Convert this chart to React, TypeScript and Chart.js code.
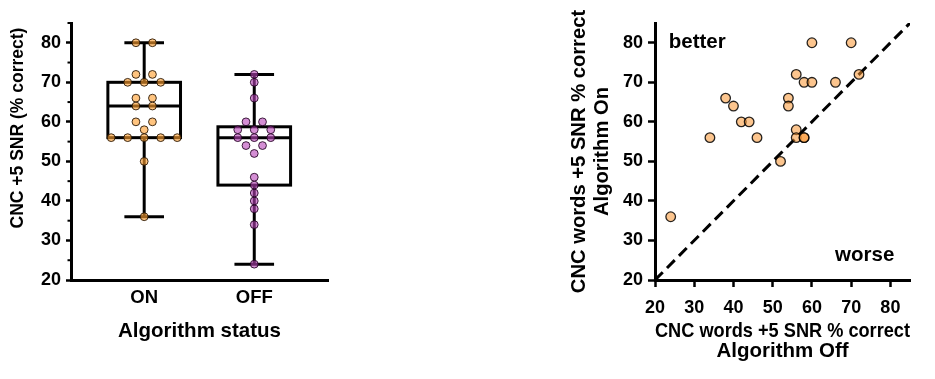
import React, { useEffect, useRef } from 'react';
import { Chart, registerables } from 'chart.js';

Chart.register(...registerables);

const FONT = "'Liberation Sans', Arial, Helvetica, sans-serif";

// ---- data ----
const statusLabels = ['ON', 'OFF'];
// paired participants: algorithm off / algorithm on (% correct)
const scoreOff = [24, 34, 38, 40, 42, 44, 46, 52, 54, 54, 56, 56, 56, 58, 58, 58, 60, 60, 66, 70, 72];
const scoreOn = [36, 56, 66, 64, 60, 60, 56, 50, 66, 64, 72, 58, 56, 70, 56, 56, 80, 70, 70, 80, 72];
// box stats: min, q1, median, q3, max
const boxOn = [36, 56, 64, 70, 80];
const boxOff = [24, 44, 56, 58.75, 72];
const axisRange = [20, 85];
const majorStep = 10;
const minorTickValues = [25, 35, 45, 55, 65, 75, 85];
const identityLine = [20, 85];

const SWARM_SPACING = 0.15;
const BOX_HALF = 0.33;
const CAP_HALF = 0.18;

function swarm(values: number[], center: number, spacing: number) {
  const counts: Record<number, number> = {};
  const seen: Record<number, number> = {};
  values.forEach((v) => (counts[v] = (counts[v] || 0) + 1));
  return values.map((v) => {
    const i = (seen[v] = (seen[v] ?? -1) + 1);
    return { x: center + (i - (counts[v] - 1) / 2) * spacing, y: v };
  });
}

const boxPlugin = {
  id: 'boxes',
  beforeDatasetsDraw(chart: any) {
    const { ctx, scales } = chart;
    const x = scales.x;
    const y = scales.y;
    ctx.save();
    ctx.strokeStyle = '#000';
    ctx.lineWidth = 3;
    ctx.lineCap = 'butt';
    const line = (x1: number, y1: number, x2: number, y2: number) => {
      ctx.beginPath();
      ctx.moveTo(x1, y1);
      ctx.lineTo(x2, y2);
      ctx.stroke();
    };
    [boxOn, boxOff].forEach((b, i) => {
      const c = i + 1;
      const xc = x.getPixelForValue(c);
      const xl = x.getPixelForValue(c - BOX_HALF);
      const xr = x.getPixelForValue(c + BOX_HALF);
      const cl = x.getPixelForValue(c - CAP_HALF);
      const cr = x.getPixelForValue(c + CAP_HALF);
      const [mn, q1, md, q3, mx] = b.map((v) => y.getPixelForValue(v));
      line(xc, mn, xc, q1);
      line(xc, q3, xc, mx);
      line(cl, mn, cr, mn);
      line(cl, mx, cr, mx);
      ctx.strokeRect(xl, q3, xr - xl, q1 - q3);
      line(xl, md, xr, md);
    });
    ctx.restore();
  },
  afterDraw(chart: any) {
    const { ctx, scales, chartArea } = chart;
    const y = scales.y;
    ctx.save();
    ctx.strokeStyle = '#000';
    ctx.lineWidth = 2;
    minorTickValues.forEach((v) => {
      const py = y.getPixelForValue(v);
      ctx.beginPath();
      ctx.moveTo(chartArea.left - 3.5, py);
      ctx.lineTo(chartArea.left, py);
      ctx.stroke();
    });
    ctx.translate(18, chartArea.top + 105);
    ctx.rotate(-Math.PI / 2);
    ctx.font = `bold 17.5px ${FONT}`;
    ctx.fillStyle = '#000';
    ctx.textAlign = 'center';
    ctx.textBaseline = 'middle';
    ctx.fillText('CNC +5 SNR (% correct)', 0, 0);
    ctx.restore();
  },
};

const notePlugin = {
  id: 'notes',
  afterDatasetsDraw(chart: any) {
    const { ctx, scales } = chart;
    const x = scales.x;
    const y = scales.y;
    ctx.save();
    ctx.font = `bold 20.5px ${FONT}`;
    ctx.fillStyle = '#000';
    ctx.textBaseline = 'middle';
    ctx.textAlign = 'left';
    ctx.fillText('better', x.getPixelForValue(23.5), y.getPixelForValue(80.2));
    ctx.textAlign = 'right';
    ctx.fillText('worse', x.getPixelForValue(81), y.getPixelForValue(26.3));
    ctx.restore();
  },
};

const black = '#000';

function BoxChart() {
  const ref = useRef<HTMLCanvasElement>(null);
  useEffect(() => {
    const chart = new Chart(ref.current!, {
      type: 'scatter',
      data: {
        datasets: [
          {
            data: swarm(scoreOn, 1, SWARM_SPACING),
            backgroundColor: 'rgba(255,160,48,0.62)',
            borderColor: 'rgba(30,15,0,0.85)',
            borderWidth: 1,
            pointRadius: 3.9,
          },
          {
            data: swarm(scoreOff, 2, SWARM_SPACING),
            backgroundColor: 'rgba(183,67,183,0.6)',
            borderColor: 'rgba(30,0,30,0.85)',
            borderWidth: 1,
            pointRadius: 3.9,
          },
        ],
      },
      options: {
        animation: false,
        responsive: false,
        devicePixelRatio: 1,
        layout: { padding: { top: 23, right: 12, bottom: 0, left: 0 } },
        plugins: { legend: { display: false }, tooltip: { enabled: false } },
        scales: {
          x: {
            type: 'linear',
            min: 0.335,
            max: 2.67,
            afterBuildTicks: (s: any) => {
              s.ticks = statusLabels.map((_, i) => ({ value: i + 1 }));
            },
            afterFit: (s: any) => {
              s.height = 99;
            },
            ticks: {
              callback: (v: any) => statusLabels[Number(v) - 1] ?? '',
              font: { size: 18.5, weight: 'bold', family: FONT },
              color: black,
              padding: -1,
              autoSkip: false,
              maxRotation: 0,
            },
            grid: { display: false },
            border: { display: true, color: black, width: 3 },
            title: {
              display: true,
              text: 'Algorithm status',
              font: { size: 20.5, weight: 'bold', family: FONT },
              color: black,
              padding: { top: 0, bottom: 35 },
            },
          },
          y: {
            min: axisRange[0],
            max: axisRange[1],
            afterFit: (s: any) => {
              s.width = 71;
            },
            ticks: {
              stepSize: majorStep,
              includeBounds: false,
              font: { size: 18, weight: 'bold', family: FONT },
              color: black,
              padding: 5,
            },
            grid: { drawOnChartArea: false, color: black, tickLength: 5, tickWidth: 2.5 },
            border: { display: true, color: black, width: 3 },
          },
        },
      } as any,
      plugins: [boxPlugin],
    });
    return () => chart.destroy();
  }, []);
  return <canvas ref={ref} width={340} height={379} style={{ position: 'absolute', left: 0, top: 0 }} />;
}

function PairChart() {
  const ref = useRef<HTMLCanvasElement>(null);
  useEffect(() => {
    const chart = new Chart(ref.current!, {
      type: 'scatter',
      data: {
        datasets: [
          {
            data: scoreOff.map((v, i) => ({ x: v, y: scoreOn[i] })),
            backgroundColor: 'rgba(250,150,50,0.55)',
            borderColor: 'rgba(0,0,0,0.85)',
            borderWidth: 1.3,
            pointRadius: 4.8,
          },
          {
            type: 'line',
            data: identityLine.map((v) => ({ x: v, y: v })),
            borderColor: black,
            borderWidth: 3,
            borderDash: [11, 6],
            pointRadius: 0,
            fill: false,
          },
        ],
      },
      options: {
        animation: false,
        responsive: false,
        devicePixelRatio: 1,
        layout: { padding: { top: 23, right: 25, bottom: 0, left: 0 } },
        plugins: { legend: { display: false }, tooltip: { enabled: false } },
        scales: {
          x: {
            type: 'linear',
            min: axisRange[0],
            max: axisRange[1],
            afterFit: (s: any) => {
              s.height = 99;
            },
            ticks: {
              stepSize: majorStep,
              includeBounds: false,
              font: { size: 18, weight: 'bold', family: FONT },
              color: black,
              padding: 10,
              maxRotation: 0,
            },
            grid: { drawOnChartArea: false, color: black, tickLength: 7, tickWidth: 2.5 },
            border: { display: true, color: black, width: 3 },
            title: {
              display: true,
              text: ['CNC words +5 SNR % correct', 'Algorithm Off'],
              font: { size: 20.5, weight: 'bold', family: FONT, lineHeight: 1.0 },
              color: black,
              padding: { top: 0, bottom: 17 },
            },
          },
          y: {
            min: axisRange[0],
            max: axisRange[1],
            afterFit: (s: any) => {
              s.width = 115;
            },
            ticks: {
              stepSize: majorStep,
              includeBounds: false,
              font: { size: 18, weight: 'bold', family: FONT },
              color: black,
              padding: 5,
            },
            grid: { drawOnChartArea: false, color: black, tickLength: 7, tickWidth: 2.5 },
            border: { display: true, color: black, width: 3 },
            title: {
              display: true,
              text: ['CNC words +5 SNR % correct', 'Algorithm On'],
              font: { size: 20.2, weight: 'bold', family: FONT, lineHeight: 1.15 },
              color: black,
              padding: { top: 28, bottom: 0 },
            },
          },
        },
      } as any,
      plugins: [notePlugin],
    });
    return () => chart.destroy();
  }, []);
  return <canvas ref={ref} width={395} height={379} style={{ position: 'absolute', left: 540, top: 0 }} />;
}

export default function App() {
  return (
    <div style={{ position: 'absolute', left: 0, top: 0, width: 935, height: 379, background: '#fff' }}>
      <BoxChart />
      <PairChart />
    </div>
  );
}
